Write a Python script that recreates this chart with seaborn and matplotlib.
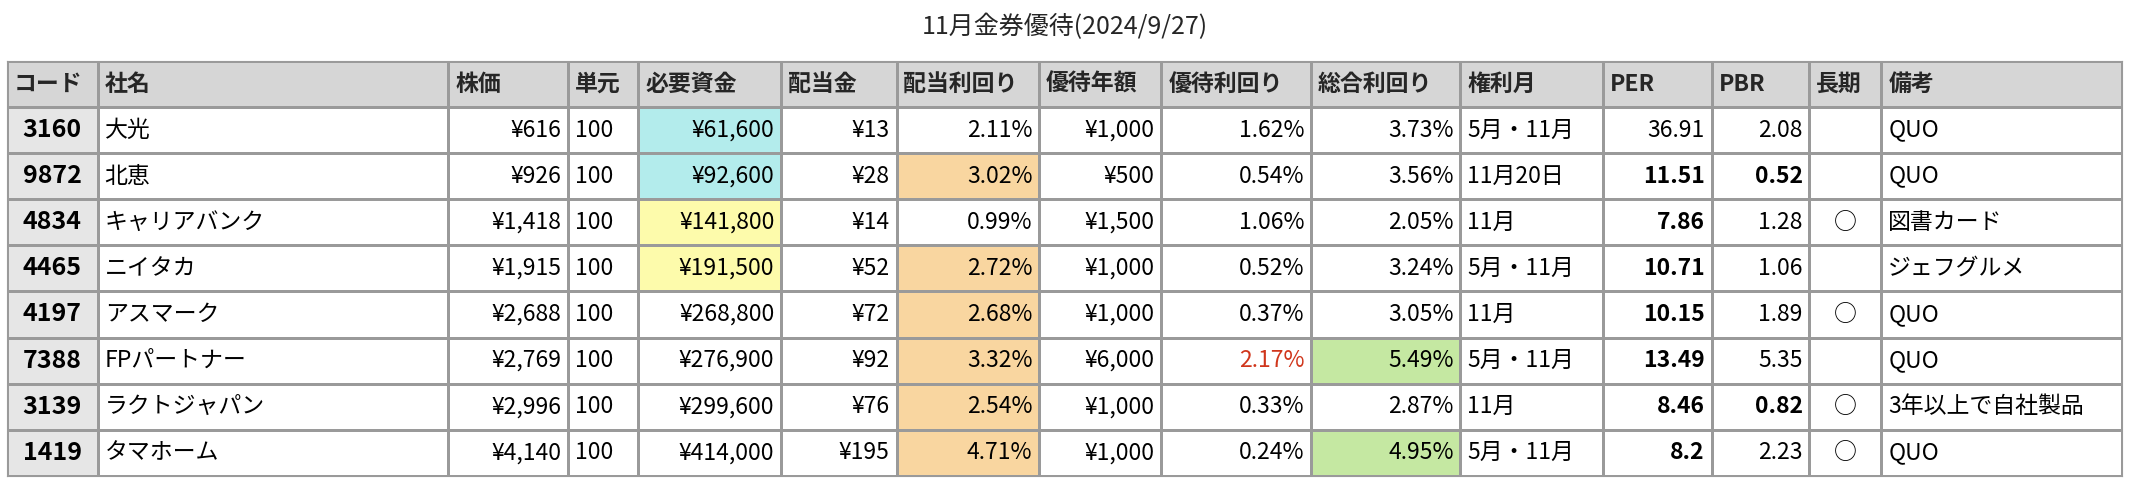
import numpy as np
import matplotlib.pyplot as plt
import seaborn as sns
from matplotlib.colors import ListedColormap

sns.set_style("white")
plt.rcParams["font.family"] = "Noto Sans CJK JP"

title = "11月金券優待(2024/9/27)"
headers = ["コード", "社名", "株価", "単元", "必要資金", "配当金", "配当利回り", "優待年額",
           "優待利回り", "総合利回り", "権利月", "PER", "PBR", "長期", "備考"]
codes = ["3160", "9872", "4834", "4465", "4197", "7388", "3139", "1419"]
names = ["大光", "北恵", "キャリアバンク", "ニイタカ", "アスマーク", "FPパートナー", "ラクトジャパン", "タマホーム"]
prices = ["¥616", "¥926", "¥1,418", "¥1,915", "¥2,688", "¥2,769", "¥2,996", "¥4,140"]
units = ["100"] * 8
capital = ["¥61,600", "¥92,600", "¥141,800", "¥191,500", "¥268,800", "¥276,900", "¥299,600", "¥414,000"]
dividend = ["¥13", "¥28", "¥14", "¥52", "¥72", "¥92", "¥76", "¥195"]
div_yield = ["2.11%", "3.02%", "0.99%", "2.72%", "2.68%", "3.32%", "2.54%", "4.71%"]
benefit = ["¥1,000", "¥500", "¥1,500", "¥1,000", "¥1,000", "¥6,000", "¥1,000", "¥1,000"]
ben_yield = ["1.62%", "0.54%", "1.06%", "0.52%", "0.37%", "2.17%", "0.33%", "0.24%"]
total_yield = ["3.73%", "3.56%", "2.05%", "3.24%", "3.05%", "5.49%", "2.87%", "4.95%"]
rights = ["5月・11月", "11月20日", "11月", "5月・11月", "11月", "5月・11月", "11月", "5月・11月"]
per = ["36.91", "11.51", "7.86", "10.71", "10.15", "13.49", "8.46", "8.2"]
pbr = ["2.08", "0.52", "1.28", "1.06", "1.89", "5.35", "0.82", "2.23"]
longterm = ["", "", "○", "", "○", "", "○", "○"]
notes = ["QUO", "QUO", "図書カード", "ジェフグルメ", "QUO", "QUO", "3年以上で自社製品", "QUO"]

# column edges (px in reference) and alignment
col_edges = [5, 72, 330, 418, 470, 575, 660, 765, 855, 965, 1075, 1180, 1260, 1332, 1385, 1562]
aligns = ["c", "l", "r", "l", "r", "r", "r", "r", "r", "r", "l", "r", "r", "c", "l"]
per_bold = [False, True, True, True, True, True, True, True]
pbr_bold = [False, True, False, False, False, False, True, False]

columns = [codes, names, prices, units, capital, dividend, div_yield, benefit,
           ben_yield, total_yield, rights, per, pbr, longterm, notes]

# background colour codes: 0 white, 1 header, 2 code col, 3 cyan, 4 yellow, 5 orange, 6 green
palette = ["#ffffff", "#d6d6d6", "#e6e6e6", "#b3ecec", "#fdfbab", "#f9d6a0", "#c5e8a2"]
nrows = len(codes) + 1
ncols = len(headers)
C = np.zeros((nrows, ncols), dtype=int)
C[0, :] = 1
C[1:, 0] = 2
for r in [0, 1]:
    C[r + 1, 4] = 3
for r in [2, 3]:
    C[r + 1, 4] = 4
for r in [1, 3, 4, 5, 6, 7]:
    C[r + 1, 6] = 5
for r in [5, 7]:
    C[r + 1, 9] = 6

fig = plt.figure(figsize=(21.3, 4.84), dpi=100)
ax = fig.add_axes([0.0032, 0.017, 0.9930, 0.857])
xe = np.array(col_edges, dtype=float)
ye = np.arange(nrows + 1)
ax.pcolormesh(xe, ye, C, cmap=ListedColormap(palette), vmin=-0.5, vmax=len(palette) - 0.5,
              edgecolors="#9a9a9a", linewidth=1.0)
ax.set_xlim(xe[0], xe[-1])
ax.set_ylim(nrows, 0)
ax.set_xticks([])
ax.set_yticks([])
for s in ax.spines.values():
    s.set_color("#9a9a9a")

fs = 16.5
pad = 5
for j, h in enumerate(headers):
    ax.text(xe[j] + pad, 0.5, h, ha="left", va="center", fontsize=fs, fontweight="bold")
for j, col in enumerate(columns):
    for i, v in enumerate(col):
        y = i + 1.5
        a = aligns[j]
        if a == "l":
            x, ha = xe[j] + pad, "left"
        elif a == "r":
            x, ha = xe[j + 1] - pad, "right"
        else:
            x, ha = (xe[j] + xe[j + 1]) / 2, "center"
        weight = "normal"
        if j == 0 or (j == 11 and per_bold[i]) or (j == 12 and pbr_bold[i]):
            weight = "bold"
        color = "#d0361c" if (j == 8 and i == 5) else "black"
        size = fs + 1.5 if j == 0 else fs
        ax.text(x, y, v, ha=ha, va="center", fontsize=size, fontweight=weight, color=color)

fig.text(0.5, 0.945, title, ha="center", va="center", fontsize=18)
fig.savefig("out.png", dpi=100)
